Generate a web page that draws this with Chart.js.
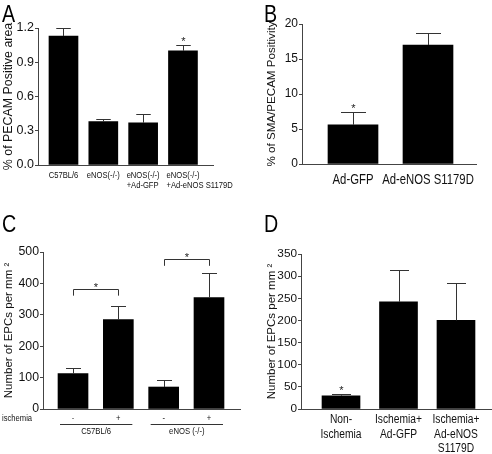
<!DOCTYPE html>
<html>
<head>
<meta charset="utf-8">
<script src="https://cdn.jsdelivr.net/npm/chart.js@4.4.1/dist/chart.umd.min.js"></script>
<style>
  body { margin: 0; background: #fff; }
  #fig { position: relative; width: 492px; height: 454px; overflow: hidden; }
  canvas { position: absolute; }
  .letter { position: absolute; font-family: 'Liberation Sans', sans-serif; font-size: 24px; line-height: 1; color: #000;
            transform: scaleX(0.82); transform-origin: left top; }
</style>
</head>
<body>
<div id="fig">
  <canvas id="panelA" width="246" height="227" style="left:0;top:0"></canvas>
  <canvas id="panelB" width="246" height="227" style="left:246px;top:0"></canvas>
  <canvas id="panelC" width="246" height="227" style="left:0;top:227px"></canvas>
  <canvas id="panelD" width="246" height="227" style="left:246px;top:227px"></canvas>
  <div class="letter" style="left:2px;top:2px">A</div>
  <div class="letter" style="left:264px;top:2px">B</div>
  <div class="letter" style="left:2px;top:212px">C</div>
  <div class="letter" style="left:264px;top:212px">D</div>
</div>
<script>
// A: PECAM positive area
const aLabels = [['C57BL/6'], ['eNOS(-/-)'], ['eNOS(-/-)', '+Ad-GFP'], ['eNOS(-/-)', '+Ad-eNOS S1179D']];
const aMeans = [1.13, 0.38, 0.37, 1.0];
const aSem = [0.07, 0.02, 0.08, 0.055];
const aStars = [0, 0, 0, 1];
const aTicks = [0, 0.3, 0.6, 0.9, 1.2];

// B: SMA/PECAM positivity
const bLabels = [['Ad-GFP'], ['Ad-eNOS S1179D']];
const bMeans = [5.6, 17.0];
const bSem = [1.9, 1.7];
const bStars = [1, 0];
const bTicks = [0, 5, 10, 15, 20];

// C: EPCs, ischemia - / + per strain
const cIschemia = ['-', '+', '-', '+'];
const cGroups = ['C57BL/6', 'eNOS (-/-)'];
const cMeans = [113, 285, 70, 355];
const cSem = [16, 42, 22, 77];
const cTicks = [0, 100, 200, 300, 400, 500];
const cBrackets = [[0, 1, 383], [2, 3, 478]]; // bar from, bar to, bracket height

// D: EPCs after treatment
const dLabels = [['Non-', 'Ischemia'], ['Ischemia+', 'Ad-GFP'], ['Ischemia+', 'Ad-eNOS', 'S1179D']];
const dMeans = [30, 242, 200];
const dSem = [4, 71, 85];
const dStars = [1, 0, 0];
const dTicks = [0, 50, 100, 150, 200, 250, 300, 350];

const SANS = "'Liberation Sans', sans-serif";
const SQUEEZE = 0.82; // the original lettering is a narrow grotesque
const AXIS = '#444';
const INK = '#111';

// narrow text: squeeze horizontally around the anchor
function narrowText(ctx, text, x, y) {
    ctx.save();
    ctx.translate(x, y);
    ctx.scale(SQUEEZE, 1);
    ctx.fillText(text, 0, 0);
    ctx.restore();
}

function decorations(p) {
    return {
        id: 'deco',
        afterDraw(chart) {
            const ctx = chart.ctx, xs = chart.scales.x, ys = chart.scales.y;
            ctx.save();
            ctx.strokeStyle = '#333';
            ctx.lineWidth = 1;
            // error bars (upper half only) + significance stars
            p.means.forEach((m, i) => {
                const x = Math.round(xs.getPixelForValue(i)) + 0.5;
                const y0 = ys.getPixelForValue(m);
                const y1 = Math.round(ys.getPixelForValue(m + p.sem[i])) + 0.5;
                const half = p.barWidth / 4;
                ctx.beginPath();
                ctx.moveTo(x, y0); ctx.lineTo(x, y1);
                ctx.moveTo(x - half, y1); ctx.lineTo(x + half, y1);
                ctx.stroke();
                if (p.stars && p.stars[i]) {
                    ctx.fillStyle = '#222';
                    ctx.font = '11px ' + SANS;
                    ctx.textAlign = 'center';
                    ctx.textBaseline = 'alphabetic';
                    ctx.fillText('*', x, y1 - 1);
                }
            });
            // category labels
            if (p.labels) {
                ctx.fillStyle = INK;
                ctx.font = p.labelSize + 'px ' + SANS;
                ctx.textBaseline = 'middle';
                p.labels.forEach((lines, i) => {
                    const cx = xs.getPixelForValue(i);
                    let x = cx;
                    if (p.labelAlign === 'left') {
                        ctx.textAlign = 'left';
                        x = cx - ctx.measureText(lines[0]).width * SQUEEZE / 2;
                    } else {
                        ctx.textAlign = 'center';
                    }
                    lines.forEach((t, k) => narrowText(ctx, t, x, xs.top + p.labelOffset + k * p.labelStep));
                });
            }
            if (p.extra) p.extra(ctx, xs, ys);
            ctx.restore();
        }
    };
}

function makePanel(id, p) {
    const points = p.means.map((v, i) => ({ x: i, y: v }));
    return new Chart(document.getElementById(id), {
        type: 'bar',
        data: {
            datasets: [{ data: points, backgroundColor: '#000', borderWidth: 0, barThickness: p.barWidth }]
        },
        options: {
            responsive: false,
            animation: false,
            events: [],
            layout: { padding: { top: p.area.top, right: 246 - p.area.right, left: 0, bottom: 0 } },
            plugins: { legend: { display: false }, tooltip: { enabled: false } },
            scales: {
                x: {
                    type: 'linear', min: p.xMin, max: p.xMax, offset: false,
                    ticks: { display: false },
                    grid: { display: false, drawTicks: false },
                    border: { color: AXIS, width: 1 },
                    afterFit: s => { s.height = 227 - p.area.bottom; }
                },
                y: {
                    min: 0, max: p.ticks[p.ticks.length - 1],
                    afterBuildTicks: s => { s.ticks = p.ticks.map(v => ({ value: v })); },
                    ticks: { font: { family: SANS, size: p.tickSize }, color: INK, padding: 1, callback: p.fmt },
                    grid: { drawOnChartArea: false, tickLength: 3, color: AXIS },
                    border: { color: AXIS },
                    title: {
                        display: true, text: p.title, color: INK,
                        font: { family: SANS, size: p.titleSize },
                        padding: { top: p.titlePad, bottom: 0 }
                    },
                    afterFit: s => { s.width = p.area.left; }
                }
            }
        },
        plugins: [decorations(p)]
    });
}

makePanel('panelA', {
    means: aMeans, sem: aSem, stars: aStars, ticks: aTicks, labels: aLabels,
    fmt: v => v.toFixed(1),
    area: { left: 38, right: 213, top: 28, bottom: 165 },
    xMin: -0.64, xMax: 3.754, barWidth: 29,
    tickSize: 12.5, title: '% of PECAM Positive area', titleSize: 12.4, titlePad: 1,
    labelSize: 9.3, labelOffset: 10, labelStep: 10, labelAlign: 'left'
});

makePanel('panelB', {
    means: bMeans, sem: bSem, stars: bStars, ticks: bTicks, labels: bLabels,
    fmt: v => String(v),
    area: { left: 56, right: 230, top: 24, bottom: 164 },
    xMin: -0.68, xMax: 1.64, barWidth: 50,
    tickSize: 12, title: '% of SMA/PECAM Positivity', titleSize: 11.6, titlePad: 19,
    labelSize: 13.8, labelOffset: 16, labelStep: 15, labelAlign: 'center'
});

makePanel('panelC', {
    means: cMeans, sem: cSem, ticks: cTicks,
    fmt: v => String(v),
    area: { left: 43, right: 240, top: 25, bottom: 182 },
    xMin: -0.662, xMax: 3.684, barWidth: 30,
    tickSize: 12.3, title: 'Number of EPCs per mm \u00b2', titleSize: 11.5, titlePad: 2,
    extra: (ctx, xs, ys) => {
        ctx.strokeStyle = '#333';
        ctx.fillStyle = '#222';
        ctx.textAlign = 'center';
        cBrackets.forEach(([a, b, h]) => {
            const x1 = Math.round(xs.getPixelForValue(a)) + 0.5;
            const x2 = Math.round(xs.getPixelForValue(b)) + 0.5;
            const yTop = Math.round(ys.getPixelForValue(h)) + 0.5;
            const yTip = ys.getPixelForValue(h - 22);
            ctx.beginPath();
            ctx.moveTo(x1, yTip); ctx.lineTo(x1, yTop); ctx.lineTo(x2, yTop); ctx.lineTo(x2, yTip);
            ctx.stroke();
            ctx.font = '11px ' + SANS;
            ctx.textBaseline = 'alphabetic';
            ctx.fillText('*', (x1 + x2) / 2, yTop + 1);
        });
        ctx.fillStyle = INK;
        ctx.font = '9.3px ' + SANS;
        ctx.textBaseline = 'middle';
        ctx.textAlign = 'left';
        narrowText(ctx, 'ischemia', 2, xs.top + 9);
        ctx.textAlign = 'center';
        cIschemia.forEach((s, i) => narrowText(ctx, s, xs.getPixelForValue(i), xs.top + 9));
        ctx.font = '9.4px ' + SANS;
        cGroups.forEach((g, k) => {
            const xa = xs.getPixelForValue(2 * k) - 13;
            const xb = xs.getPixelForValue(2 * k + 1) + 14;
            const yl = Math.round(xs.top + 15) + 0.5;
            ctx.beginPath(); ctx.moveTo(xa, yl); ctx.lineTo(xb, yl); ctx.stroke();
            narrowText(ctx, g, (xa + xb) / 2, xs.top + 22);
        });
    }
});

makePanel('panelD', {
    means: dMeans, sem: dSem, stars: dStars, ticks: dTicks, labels: dLabels,
    fmt: v => String(v),
    area: { left: 55, right: 245, top: 27, bottom: 182 },
    xMin: -0.696, xMax: 2.609, barWidth: 38,
    tickSize: 11.8, title: 'Number of EPCs per mm \u00b2', titleSize: 11.5, titlePad: 19,
    labelSize: 12.5, labelOffset: 11, labelStep: 14.5, labelAlign: 'center'
});
</script>
</body>
</html>
